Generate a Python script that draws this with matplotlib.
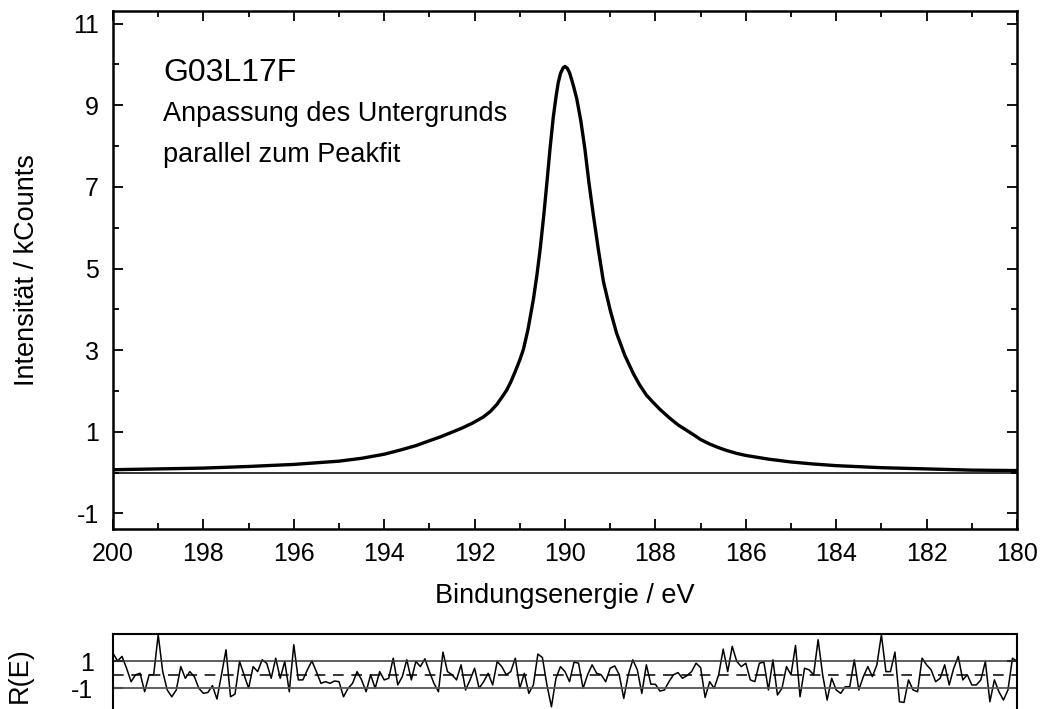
import matplotlib
matplotlib.use("Agg")
import matplotlib.pyplot as plt
import numpy as np
from matplotlib.ticker import MultipleLocator

plt.rcParams['font.family'] = ['Liberation Sans', 'DejaVu Sans']
plt.rcParams['axes.unicode_minus'] = False

# Peak, energy in eV, intensity in kCounts
energie = [200.0, 199.0, 198.0, 197.0, 196.0, 195.0, 194.5, 194.0, 193.65, 193.3,
           193.0, 192.77, 192.5, 192.3, 192.05, 191.81, 191.65, 191.5, 191.4, 191.29,
           191.2, 191.1, 191.0, 190.92, 190.82, 190.7, 190.62, 190.55, 190.47, 190.4,
           190.33, 190.26, 190.2, 190.15, 190.1, 190.04, 190.0, 189.95, 189.9, 189.85,
           189.8, 189.74, 189.65, 189.56, 189.47, 189.37, 189.26, 189.15, 189.0, 188.86,
           188.68, 188.49, 188.35, 188.2, 188.05, 187.9, 187.7, 187.5, 187.33, 187.16,
           187.0, 186.8, 186.6, 186.42, 186.2, 186.0, 185.5, 185.0, 184.5, 184.0,
           183.0, 182.0, 181.0, 180.0]
intensitaet = [0.07, 0.09, 0.11, 0.15, 0.20, 0.28, 0.35, 0.45, 0.55, 0.66,
               0.78, 0.87, 0.99, 1.08, 1.21, 1.36, 1.50, 1.68, 1.84, 2.02,
               2.22, 2.48, 2.76, 3.02, 3.50, 4.24, 4.85, 5.47, 6.30, 7.11,
               7.95, 8.70, 9.20, 9.55, 9.78, 9.92, 9.95, 9.91, 9.80, 9.62,
               9.42, 9.16, 8.62, 7.93, 7.10, 6.29, 5.45, 4.68, 3.98, 3.42,
               2.88, 2.43, 2.15, 1.90, 1.72, 1.55, 1.35, 1.17, 1.05, 0.93,
               0.81, 0.70, 0.61, 0.54, 0.47, 0.42, 0.33, 0.26, 0.21, 0.17,
               0.12, 0.09, 0.06, 0.05]

# residuals, one per 0.1 eV from 200 to 180
residuen = [1.59, 1.02, 1.35, 0.48, -0.51, 0.0, 0.11, -1.25, 0.0, 0.0,
            2.95, 0.23, -1.12, -1.62, -1.12, 0.60, -0.26, 0.23, -0.14, -1.0,
            -1.37, -1.30, -0.80, -1.79, 0.0, 1.84, -1.62, -1.42, 0.98, 0.0,
            -1.0, 0.60, 0.23, 1.10, 0.85, -0.26, 1.22, -0.26, 0.98, -1.25,
            2.21, -0.38, -0.38, 0.36, 1.02, 0.23, -0.63, -0.51, -0.63, -0.46,
            -0.51, -1.62, -1.0, -0.63, 0.23, -0.38, -1.25, 0.0, -1.0, 0.23,
            -0.38, -0.26, 1.22, -0.75, -0.14, 1.10, -0.38, 0.98, 0.60, 1.17,
            0.23, -0.63, -1.25, 1.67, 0.23, 0.0, -0.38, 0.73, -1.12, -0.38,
            0.48, -1.0, -0.51, 0.11, -0.75, 0.98, 0.60, 0.0, 0.23, 1.22,
            -1.0, 0.11, -1.37, -0.75, 1.52, 1.27, -0.75, -2.36, -0.26, 0.60,
            0.23, -0.51, 0.93, 0.85, -1.0, 0.0, 0.73, 0.11, 0.0, -0.51,
            0.48, 0.65, 0.0, -1.74, 0.0, 1.10, 0.36, -1.37, 0.73, -0.70,
            -0.70, -1.20, -1.12, -0.51, 0.0, 0.16, -0.26, -0.06, 0.23, 0.85,
            0.53, -1.67, -0.51, -1.0, 0.0, 1.89, 0.23, 2.09, 0.98, 0.60,
            0.85, -0.38, -0.51, 0.85, 0.93, -1.12, 1.10, -1.49, -1.0, 0.60,
            0.0, 2.16, -1.62, 0.48, 0.36, 0.0, 2.58, 0.0, -1.86, -0.26,
            -1.12, -1.37, -0.88, -0.88, 1.10, -1.12, -0.14, 0.60, -0.14, 0.73,
            2.95, 0.23, 0.23, 1.67, -1.99, -2.04, -0.38, -1.12, -1.25, 1.22,
            0.73, 0.36, -0.51, -0.26, 0.73, -0.75, 0.48, 1.35, -0.38, 0.0,
            -0.75, -0.75, -0.38, 0.98, -1.99, -0.38, -1.25, -1.86, -1.12, 1.22,
            1.0]
res_energie = np.linspace(200, 180, len(residuen))

W, H = 1052, 709
fig = plt.figure(figsize=(W / 100, H / 100), dpi=100)

def box(l, t, r, b):
    return [l / W, 1 - b / H, (r - l) / W, (b - t) / H]

ax = fig.add_axes(box(113, 11, 1017, 528.5))
ax.plot(energie, intensitaet, color='black', lw=2.4, solid_joinstyle='round')
ax.axhline(0, color='black', lw=1.1)
ax.set_xlim(200, 180)
ax.set_ylim(-1.37, 11.31)
ax.xaxis.set_major_locator(MultipleLocator(2))
ax.xaxis.set_minor_locator(MultipleLocator(1))
ax.set_yticks([-1, 1, 3, 5, 7, 9, 11])
ax.yaxis.set_minor_locator(MultipleLocator(1))
ax.tick_params(which='both', direction='in', top=True, right=True, width=1.3, labelsize=18)
ax.tick_params(which='major', length=7, pad=10)
ax.tick_params(which='minor', length=4)
for s in ax.spines.values():
    s.set_linewidth(1.8)
ax.set_xlabel('Bindungsenergie / eV', fontsize=19.5, labelpad=12)
ax.set_ylabel('Intensität / kCounts', fontsize=19.5, labelpad=24)

fig.text(163 / W, 1 - 81 / H, 'G03L17F', fontsize=23, va='baseline')
fig.text(163 / W, 1 - 121 / H, 'Anpassung des Untergrunds', fontsize=19.5, va='baseline')
fig.text(163 / W, 1 - 162 / H, 'parallel zum Peakfit', fontsize=19.5, va='baseline')

# residual panel, runs off the bottom of the picture
axr = fig.add_axes(box(113, 634, 1017, 715.5))
axr.plot(res_energie, residuen, color='black', lw=1.1)
axr.axhline(1, color='#333333', lw=1.1)
axr.axhline(-1, color='#555555', lw=1.3)
axr.axhline(0, color='black', lw=1.1, ls=(0, (7, 5)))
axr.set_xlim(200, 180)
axr.set_ylim(-3, 3)
axr.set_yticks([1, -1])
axr.set_xticks([])
axr.tick_params(axis='y', direction='in', right=True, length=7, width=1.5, labelsize=18, pad=14)
for s in axr.spines.values():
    s.set_linewidth(1.5)
axr.set_ylabel('R(E)', fontsize=19.5, labelpad=28)

fig.savefig('out.png', dpi=100)
